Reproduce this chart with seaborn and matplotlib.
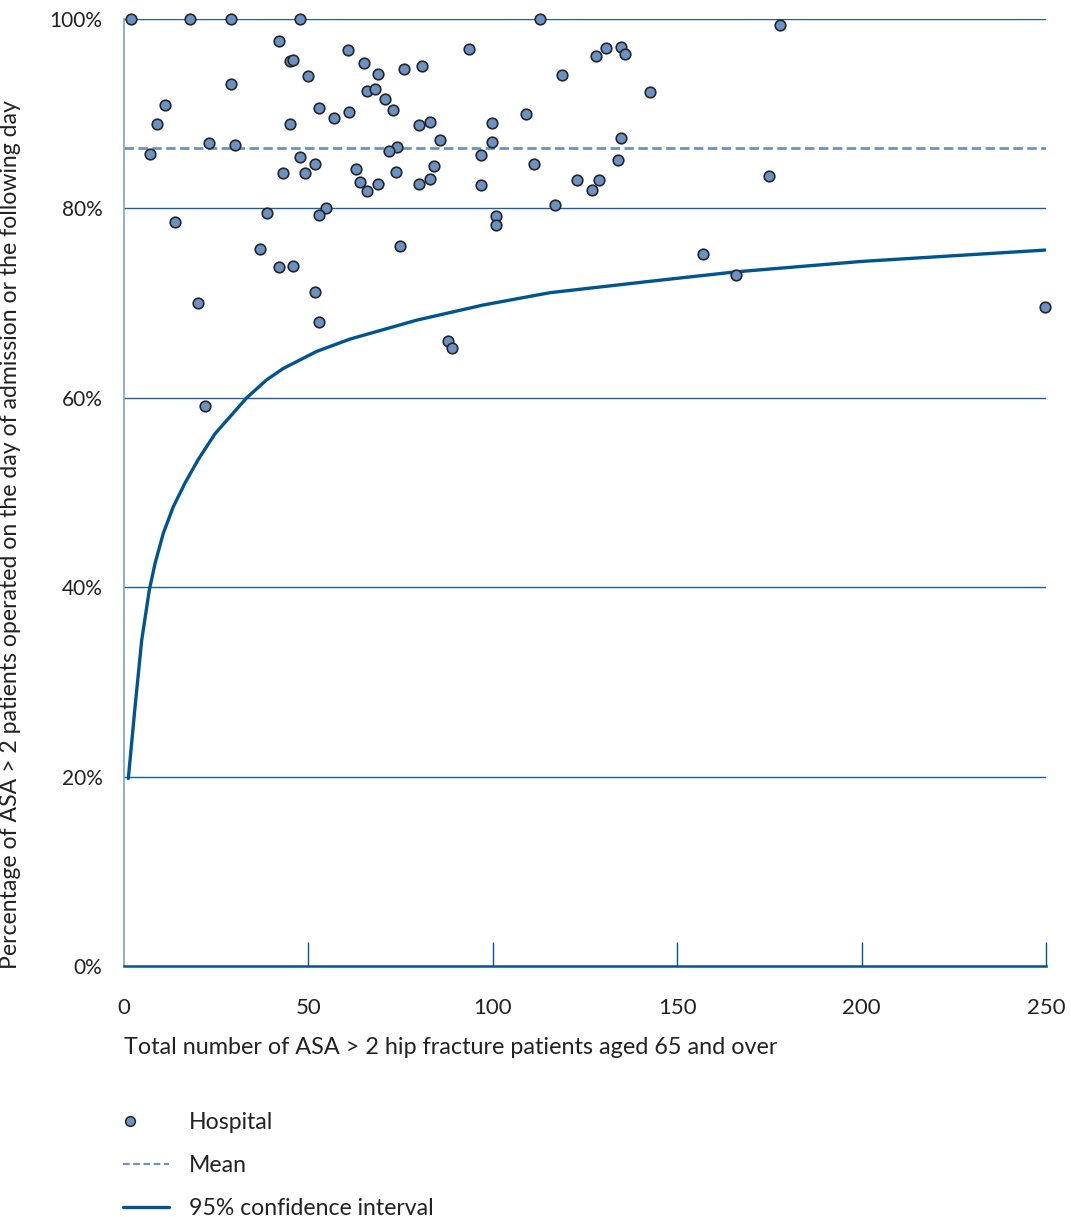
import numpy as np
import pandas as pd
import matplotlib
matplotlib.use("Agg")
import matplotlib.pyplot as plt
from matplotlib.lines import Line2D
from matplotlib.legend_handler import HandlerLine2D
import seaborn as sns

sns.set_style("white")
plt.rcParams["font.family"] = ["Lato", "DejaVu Sans"]

# hospitals: number of ASA > 2 patients and share operated day 0/1 (%)
n_patients = [1.9, 17.9, 29.0, 47.7, 112.8, 177.9, 42.0, 93.5, 60.7, 130.7,
              134.8, 135.8, 128.0, 45.0, 45.8, 65.1, 80.8, 75.9, 68.9, 49.9,
              118.8, 29.0, 65.9, 68.1, 142.6, 70.8, 11.1, 52.9, 61.0, 72.9,
              109.0, 56.9, 8.9, 45.0, 83.0, 80.0, 99.8, 134.8, 85.7, 99.8,
              23.1, 30.1, 74.0, 71.9, 7.0, 47.7, 96.8, 134.0, 51.9, 111.3,
              84.1, 62.9, 43.1, 49.1, 73.8, 174.9, 83.0, 128.8, 122.8, 64.0,
              68.9, 80.0, 96.8, 65.9, 126.9, 54.8, 116.9, 52.9, 38.8, 100.9,
              100.9, 13.8, 36.9, 74.8, 157.0, 42.0, 45.8, 165.9, 51.8, 20.1,
              249.7, 52.9, 87.9, 88.9, 22.0]
pct_operated = [100.0, 100.0, 100.0, 100.0, 100.0, 99.4, 97.7, 96.8, 96.7, 96.9,
                97.0, 96.3, 96.1, 95.6, 95.7, 95.4, 95.0, 94.7, 94.2, 94.0,
                94.1, 93.1, 92.4, 92.6, 92.3, 91.6, 90.9, 90.6, 90.2, 90.4,
                90.0, 89.5, 88.9, 88.9, 89.1, 88.8, 89.0, 87.4, 87.2, 87.0,
                86.9, 86.7, 86.5, 86.1, 85.7, 85.4, 85.6, 85.1, 84.7, 84.7,
                84.5, 84.2, 83.7, 83.7, 83.8, 83.4, 83.1, 83.0, 83.0, 82.8,
                82.6, 82.6, 82.5, 81.8, 81.9, 80.0, 80.4, 79.3, 79.5, 79.2,
                78.2, 78.6, 75.7, 76.0, 75.2, 73.8, 73.9, 73.0, 71.2, 70.0,
                69.6, 68.0, 66.0, 65.3, 59.1]

mean_pct = 86.4

# lower 95% confidence limit
ci_n = [1.17, 2.98, 4.80, 6.86, 8.41, 10.66, 13.37, 16.54, 20.15, 24.67,
        33.27, 38.69, 43.19, 47.72, 52.25, 61.28, 79.37, 97.42, 115.5,
        142.6, 165.9, 200.0, 249.8]
ci_low = [19.8, 27.3, 34.4, 39.7, 42.5, 45.7, 48.5, 51.0, 53.5, 56.2,
          60.0, 61.9, 63.1, 64.0, 64.9, 66.2, 68.2, 69.8, 71.1,
          72.3, 73.3, 74.4, 75.6]

dark_blue = "#005591"
grid_blue = "#1c5f9c"
light_blue = "#7aa3c8"
dot_blue = "#6b92c4"
text_col = "#222222"

hosp = pd.DataFrame({"n": n_patients, "pct": pct_operated})
ci = pd.DataFrame({"n": ci_n, "low": ci_low})

fig = plt.figure(figsize=(10.71, 12.17), dpi=100)
ax = fig.add_axes([124 / 1071, 1 - 966 / 1217, (1046 - 124) / 1071, (966 - 19) / 1217])

for g in [20, 40, 60, 80, 100]:
    ax.axhline(g, color=grid_blue, lw=1.0, zorder=1)

ax.axhline(mean_pct, color=dot_blue, lw=2.0, ls=(0, (3.4, 1.6)), zorder=2)
sns.lineplot(data=ci, x="n", y="low", color=dark_blue, lw=2.4, ax=ax, zorder=3)
sns.scatterplot(data=hosp, x="n", y="pct", color=dot_blue, edgecolor="#262626",
                linewidth=1.2, s=58, ax=ax, zorder=4, clip_on=False)

ax.set_xlim(0, 250)
ax.set_ylim(0, 100)
ax.set_xticks([0, 50, 100, 150, 200, 250])
ax.set_yticks([0, 20, 40, 60, 80, 100])
ax.set_yticklabels([f"{v}%" for v in [0, 20, 40, 60, 80, 100]])

for side in ["top", "right"]:
    ax.spines[side].set_visible(False)
ax.spines["left"].set_color(light_blue)
ax.spines["left"].set_linewidth(1.2)
ax.spines["bottom"].set_color(dark_blue)
ax.spines["bottom"].set_linewidth(1.8)

ax.tick_params(axis="x", bottom=True, direction="in", length=17, width=1.0,
               color=dark_blue, pad=23, labelsize=16, labelcolor=text_col)
ax.tick_params(axis="y", left=False, pad=12, labelsize=15, labelcolor=text_col)
ax.xaxis.get_major_ticks()[0].tick1line.set_visible(False)

ax.set_xlabel("Total number of ASA > 2 hip fracture patients aged 65 and over",
              fontsize=16.8, color=text_col, loc="left", labelpad=14)
ax.set_ylabel("Percentage of ASA > 2 patients operated on the day of admission or the following day",
              fontsize=16.6, color=text_col, loc="bottom")
ax.yaxis.set_label_coords(-0.112, -0.003)


class LeftMarkerHandler(HandlerLine2D):
    # put the single legend dot near the left end of the handle box
    def get_xdata(self, legend, xdescent, ydescent, width, height, fontsize):
        centre = -xdescent + 5
        xdata = [centre - width / 2, centre + width / 2]
        return xdata, [centre]


dot_handle = Line2D([], [], marker="o", ls="", markerfacecolor=dot_blue,
                    markeredgecolor="#262626", markersize=7, markeredgewidth=1.1)
handles = [
    dot_handle,
    Line2D([], [], color=dot_blue, lw=1.6, ls=(0, (3.0, 1.6))),
    Line2D([], [], color=dark_blue, lw=2.4),
]
fig.legend(handles, ["Hospital", "Mean", "95% confidence interval"],
           loc="upper left", bbox_to_anchor=(0.0955, 0.1035), frameon=False,
           fontsize=16.6, handlelength=2.0, handletextpad=0.85, labelspacing=0.95,
           labelcolor=text_col, handler_map={dot_handle: LeftMarkerHandler()})

fig.savefig("out.png", dpi=100)
